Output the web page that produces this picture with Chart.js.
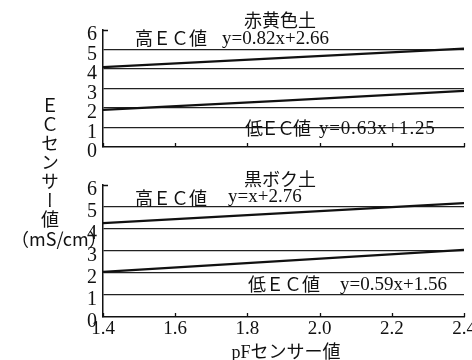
<!DOCTYPE html>
<html>
<head>
<meta charset="utf-8">
<script src="https://cdn.jsdelivr.net/npm/chart.js@4/dist/chart.umd.min.js"></script>
<style>
  html, body { margin: 0; padding: 0; background: #fff; }
  #wrap { position: relative; width: 472px; height: 360px; overflow: hidden; }
  canvas { position: absolute; left: 0; }
  .t { position: absolute; white-space: nowrap; color: #111; font-size: 18px; line-height: 18px;
       font-family: "Liberation Serif", "Noto Sans CJK JP", serif; transform: translateY(-50%); }
  .c { transform: translate(-50%, -50%); }
  .jp { font-family: "Noto Sans CJK JP", sans-serif; }
  #ytitle { position: absolute; left: 41px; top: 96px; writing-mode: vertical-rl; text-orientation: upright;
            font-family: "Noto Sans CJK JP", sans-serif; font-size: 18px; line-height: 18px; letter-spacing: 1px; color: #111; }
</style>
</head>
<body>
<div id="wrap">
  <canvas id="upperChart" width="472" height="165" style="top:0"></canvas>
  <canvas id="lowerChart" width="472" height="195" style="top:165px"></canvas>

  <div class="t c jp" style="left:280px; top:19px;">赤黄色土</div>
  <div class="t jp" style="left:135px; top:37px;">高ＥＣ値</div>
  <div class="t" style="left:222px; top:38px; font-size:19px;">y=0.82x+2.66</div>
  <div class="t jp" style="left:245px; top:127px; letter-spacing:-2px;">低ＥＣ値</div>
  <div class="t" style="left:319px; top:128px; font-size:19px; letter-spacing:0.8px;">y=0.63x+1.25</div>

  <div class="t c jp" style="left:280px; top:178px;">黒ボク土</div>
  <div class="t jp" style="left:135px; top:197px;">高ＥＣ値</div>
  <div class="t" style="left:228px; top:196px; font-size:19px;">y=x+2.76</div>
  <div class="t jp" style="left:248px; top:283px;">低ＥＣ値</div>
  <div class="t" style="left:340px; top:284px; font-size:19px;">y=0.59x+1.56</div>

  <div id="ytitle">ＥＣセンサー値</div>
  <div class="t jp" style="left:11px; top:238px;">（mS/cm）</div>
  <div class="t c" style="left:286px; top:351px;">pF<span class="jp">センサー値</span></div>
</div>

<script>
(function () {
    // values
    var pF = [1.4, 1.9, 2.4];
    var akaHigh = [4.1, 4.57, 5.05];    // 赤黄色土 高EC値
    var akaLow = [1.9, 2.38, 2.88];     // 赤黄色土 低EC値
    var kuroHigh = [4.27, 4.72, 5.18];  // 黒ボク土 高EC値
    var kuroLow = [2.05, 2.55, 3.05];   // 黒ボク土 低EC値

    var xTickValues = [1.4, 1.6, 1.8, 2.0, 2.2, 2.4];
    var yTickValues = [0, 1, 2, 3, 4, 5, 6];

    var ink = '#111';
    Chart.defaults.font.family = 'Liberation Serif';

    function toPoints(ys) {
        return pF.map(function (x, i) { return { x: x, y: ys[i] }; });
    }

    // small upward ticks on the x axis and the short mark at the top of the y axis
    var panelMarks = {
        id: 'panelMarks',
        afterDraw: function (chart) {
            var ctx = chart.ctx;
            var area = chart.chartArea;
            var xs = chart.scales.x;
            ctx.save();
            ctx.strokeStyle = ink;
            ctx.lineWidth = 1.3;
            ctx.beginPath();
            xTickValues.forEach(function (v) {
                var px = Math.round(xs.getPixelForValue(v)) + 0.5;
                ctx.moveTo(px, area.bottom);
                ctx.lineTo(px, area.bottom - 4);
            });
            ctx.moveTo(area.left, area.top + 0.5);
            ctx.lineTo(area.left + 5, area.top + 0.5);
            ctx.stroke();
            ctx.restore();
        }
    };

    function makePanel(canvasId, high, low, cfg) {
        return new Chart(document.getElementById(canvasId).getContext('2d'), {
            type: 'line',
            data: {
                datasets: [
                    { label: '高EC値', data: toPoints(high), borderColor: ink, borderWidth: 2.2, pointRadius: 0, tension: 0 },
                    { label: '低EC値', data: toPoints(low), borderColor: ink, borderWidth: 2.2, pointRadius: 0, tension: 0 }
                ]
            },
            options: {
                responsive: false,
                animation: false,
                layout: { padding: { top: cfg.top, right: 8, bottom: 0, left: 0 } },
                plugins: { legend: { display: false }, tooltip: { enabled: false } },
                scales: {
                    x: {
                        type: 'linear',
                        min: 1.4,
                        max: 2.4,
                        afterBuildTicks: function (scale) {
                            scale.ticks = xTickValues.map(function (v) { return { value: v }; });
                        },
                        afterFit: function (scale) {
                            scale.height = cfg.xHeight;
                            scale.paddingLeft = 0;
                            scale.paddingRight = 0;
                        },
                        grid: { drawOnChartArea: false, drawTicks: false },
                        border: { display: true, color: ink, width: 1.5 },
                        ticks: {
                            display: cfg.xLabels,
                            autoSkip: false,
                            padding: 1,
                            maxRotation: 0,
                            color: ink,
                            font: { size: 19 },
                            callback: function (v) { return v.toFixed(1); }
                        }
                    },
                    y: {
                        min: 0,
                        max: 6,
                        afterBuildTicks: function (scale) {
                            scale.ticks = yTickValues.map(function (v) { return { value: v }; });
                        },
                        afterFit: function (scale) { scale.width = 103; },
                        grid: {
                            drawTicks: false,
                            lineWidth: 1.3,
                            color: function (c) {
                                return c.tick && c.tick.value > 0 && c.tick.value < 6 ? '#222' : 'rgba(0,0,0,0)';
                            }
                        },
                        border: { display: true, color: ink, width: 1.5 },
                        ticks: {
                            autoSkip: false,
                            padding: 6,
                            labelOffset: 5,
                            color: ink,
                            font: { size: 20 },
                            callback: function (v) { return String(v); }
                        }
                    }
                }
            },
            plugins: [panelMarks]
        });
    }

    makePanel('upperChart', akaHigh, akaLow, { top: 30, xHeight: 8, xLabels: false });
    makePanel('lowerChart', kuroHigh, kuroLow, { top: 20, xHeight: 43, xLabels: true });
})();
</script>
</body>
</html>
